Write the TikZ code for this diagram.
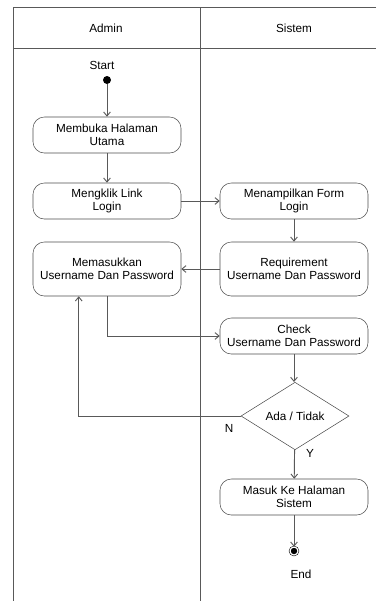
\documentclass[tikz,border=0pt]{standalone}
\usepackage{fontspec}
\setmainfont{Liberation Sans}
\usetikzlibrary{shapes.geometric, arrows.meta}

\begin{document}
\begin{tikzpicture}[x=0.75pt, y=-0.75pt, act/.style={draw=black!70, rounded corners=8.5pt, minimum width=111pt, minimum height=27pt, align=center, inner sep=2pt, font=\fontsize{8.8}{9.4}\selectfont}, tall/.style={act, minimum height=40.5pt}, dec/.style={diamond, draw=black!70, minimum width=81pt, minimum height=39pt, inner sep=0pt, font=\fontsize{8.8}{10}\selectfont}, lbl/.style={font=\fontsize{8.8}{10}\selectfont}, lane/.style={draw=black!65, line width=0.7pt}, n/.style={-{Straight Barb[length=3pt, width=5pt]}, draw=black!65, line width=0.7pt}]
            \useasboundingbox (0,0) rectangle (376,601);
            % lanes
            \draw[lane] (376,7) -- (13,7) -- (13,601);
            \draw[lane] (13,48) -- (376,48);
            \draw[lane] (200,7) -- (200,601);
            \node[lbl] (admin) at (106,28) {Admin};
            \node[lbl] (sistem) at (294,28) {Sistem};
            % nodes
            \node[lbl] (startlbl) at (102,65) {Start};
            \node[circle, fill=black, minimum size=6pt, inner sep=0pt] (start) at (107,80) {};
            \node[act] (buka) at (107,135) {Membuka Halaman\\Utama};
            \node[act] (klik) at (107,201) {Mengklik Link\\Login};
            \node[act] (form) at (294,201) {Menampilkan Form\\Login};
            \node[tall] (req) at (294,269) {Requirement\\Username Dan Password};
            \node[tall] (masuk) at (107,269) {Memasukkan\\Username Dan Password};
            \node[act] (cek) at (294,336) {Check\\Username Dan Password};
            \node[dec] (ada) at (295,416) {Ada / Tidak};
            \node[lbl] (no) at (229,428) {N};
            \node[lbl] (yes) at (310,453) {Y};
            \node[act] (sis) at (294,497) {Masuk Ke Halaman\\Sistem};
            \node[circle, fill=black, draw=black, double=white, double distance=0.9pt, minimum size=6pt, inner sep=0pt] (end) at (294,551) {};
            \node[lbl] (endlbl) at (301,574) {End};
            % edges
            \draw[n] (start) -- (buka);
            \draw[n] (buka) -- (klik);
            \draw[n] (klik) -- (form);
            \draw[n] (form) -- (req);
            \draw[n] (req) -- (masuk);
            \draw[n] (masuk.south) |- (cek.west);
            \draw[n] (cek) -- (cek |- ada.north);
            \draw[n] (ada.west) -| ([xshift=34.5pt]masuk.south west);
            \draw[n] (ada) -- (sis);
            \draw[n] (sis) -- (end);
        \end{tikzpicture}
\end{document}
